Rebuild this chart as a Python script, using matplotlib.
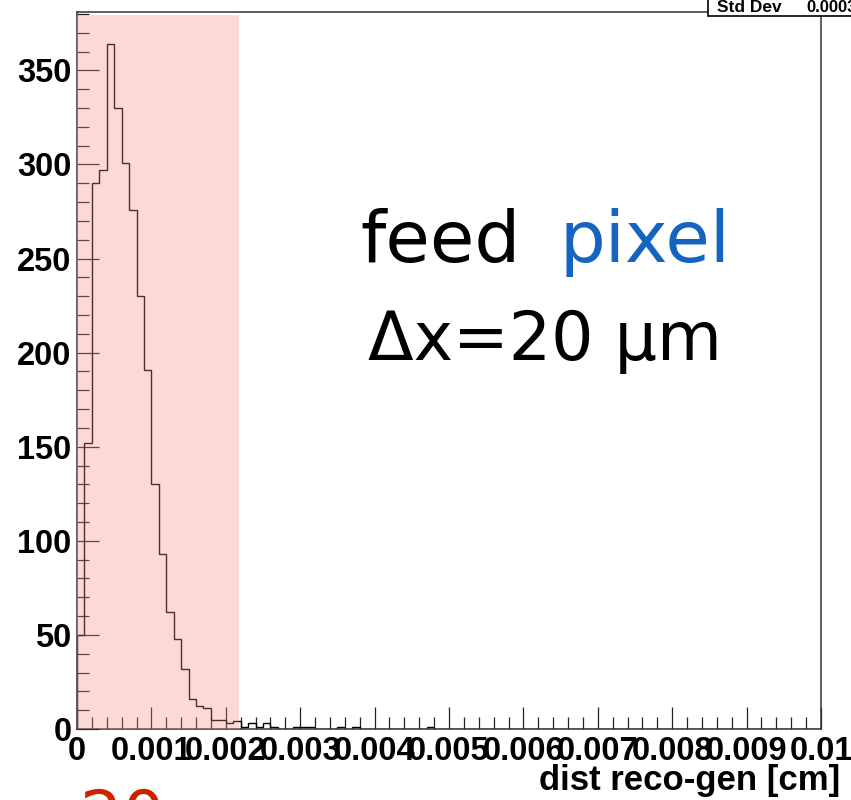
import matplotlib
matplotlib.use("Agg")
import matplotlib.pyplot as plt
from matplotlib.patches import Rectangle
from matplotlib.ticker import MultipleLocator, FuncFormatter
import numpy as np

# distance between reconstructed and generated hit, 100 bins over [0, 0.01] cm
bin_width = 0.0001
counts = [50, 152, 290, 297, 364, 330, 301, 276, 230, 191,
          130, 93, 62, 48, 32, 16, 12, 11, 5, 5,
          3, 4, 1, 3, 1, 3, 1, 0, 0, 1,
          1, 1, 0, 0, 0, 1, 0, 1, 0, 0,
          0, 0, 0, 0, 0, 0, 0, 1, 0, 0]
counts = counts + [0] * (100 - len(counts))
edges = np.arange(101) * bin_width

roi_max = 0.00218
x_ticks = [0, 0.001, 0.002, 0.003, 0.004, 0.005, 0.006, 0.007, 0.008, 0.009, 0.01]
y_ticks = [0, 50, 100, 150, 200, 250, 300, 350]

plt.rcParams['font.family'] = ['Liberation Sans', 'DejaVu Sans']

fig = plt.figure(figsize=(8.51, 8.00), dpi=100)
ax = fig.add_axes([77 / 851, 71 / 800, 744 / 851, 717 / 800])

ax.stairs(counts, edges, color='black', lw=1.0, zorder=2)
ax.axvspan(0, roi_max, ymin=0, ymax=0.996, color='#f08c88', alpha=0.33,
           lw=0, zorder=3)

ax.set_xlim(0, 0.01)
ax.set_ylim(0, 381)
ax.set_xticks(x_ticks)
ax.set_yticks(y_ticks)
ax.xaxis.set_minor_locator(MultipleLocator(0.0002))
ax.yaxis.set_minor_locator(MultipleLocator(10))
ax.xaxis.set_major_formatter(FuncFormatter(lambda v, p: '%g' % round(v, 4)))

ax.tick_params(which='both', direction='in', top=False, right=False,
               width=0.9, color='#222222')
ax.tick_params(which='major', length=16, labelsize=23.5)
ax.tick_params(axis='x', which='major', pad=5)
ax.tick_params(axis='y', which='major', pad=4)
ax.tick_params(which='minor', length=8.5)
for lab in ax.get_xticklabels() + ax.get_yticklabels():
    lab.set_fontweight('bold')
for s in ax.spines.values():
    s.set_linewidth(1.1)
    s.set_color('#333333')

fig.text(840 / 851, 1 - 790 / 800, 'dist reco-gen [cm]', ha='right',
         va='baseline', fontsize=25, fontweight='bold')

# stats box in the corner
fig.add_artist(Rectangle((708 / 851, 1 - 15.7 / 800), 0.3, 0.05,
                         transform=fig.transFigure, fc='white', ec='black',
                         lw=1.2, zorder=5))
fig.text(717 / 851, 1 - 11.7 / 800, 'Std Dev', fontsize=12.5, fontweight='bold',
         va='baseline', zorder=6)
fig.text(806 / 851, 1 - 11.7 / 800, '0.0003', fontsize=12, fontweight='bold',
         va='baseline', zorder=6)

# annotations
fig.text(360 / 851, 1 - 262 / 800, 'feed', fontsize=52, color='black',
         family='DejaVu Sans', va='baseline')
fig.text(560 / 851, 1 - 262 / 800, 'pixel', fontsize=52, color='#1565c0',
         family='DejaVu Sans', va='baseline')
fig.text(368 / 851, 1 - 360 / 800, 'Δx=20 μm', fontsize=48, color='black',
         family='DejaVu Sans', va='baseline')
fig.text(80 / 851, 1 - 787 / 800, '20 μm', fontsize=48, color='#cc2200',
         family='DejaVu Sans', va='top')

fig.savefig('out.png', dpi=100)
